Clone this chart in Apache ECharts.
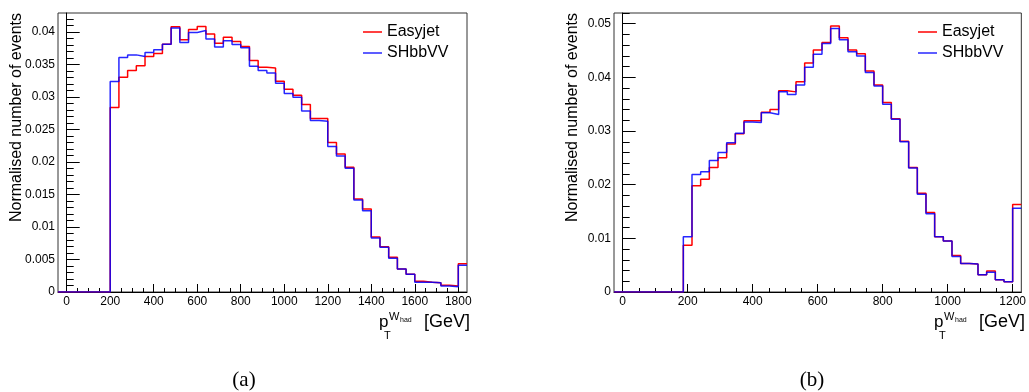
<!DOCTYPE html>
<html>
<head>
<meta charset="utf-8">
<script src="https://cdn.jsdelivr.net/npm/echarts@6/dist/echarts.min.js"></script>
<style>html,body{margin:0;padding:0;background:#fff;}#chart{width:1029px;height:392px;}</style>
</head>
<body>
<div id="chart"></div>
<script>
// ---------- data ----------
const seriesNames = ['Easyjet', 'SHbbVV'];

// Panel (a): bins of 40 GeV, from -40 to 1840 (last bin = overflow)
const binStartA = -40;
const binWidthA = 40;
const easyjetA = [0, 0, 0, 0, 0, 0,
  0.02836, 0.03303, 0.03405, 0.03477, 0.03620, 0.03667, 0.03810, 0.04080, 0.03877, 0.04036,
  0.04082, 0.03969, 0.03826, 0.03918, 0.03851, 0.03774, 0.03559, 0.03456, 0.03446, 0.03241,
  0.03118, 0.03026, 0.02882, 0.02667, 0.02667, 0.02297, 0.02123, 0.01918, 0.01431, 0.01277,
  0.00846, 0.00697, 0.00533, 0.00354, 0.00272, 0.00164, 0.00149, 0.00144, 0.00103, 0.00092,
  0.00436];
const shbbvvA = [0, 0, 0, 0, 0, 0,
  0.03236, 0.03605, 0.03646, 0.03620, 0.03682, 0.03723, 0.03810, 0.04060, 0.03836, 0.03990,
  0.04020, 0.03892, 0.03769, 0.03862, 0.03805, 0.03754, 0.03472, 0.03405, 0.03369, 0.03210,
  0.03051, 0.02995, 0.02785, 0.02636, 0.02626, 0.02236, 0.02092, 0.01903, 0.01415, 0.01251,
  0.00831, 0.00687, 0.00518, 0.00354, 0.00272, 0.00149, 0.00149, 0.00144, 0.00092, 0.00082,
  0.00410];

// Panel (b): 45 bins over 0-1200 GeV plus one empty bin below and overflow above
const binWidthB = 1200 / 45;
const binStartB = -binWidthB;
const easyjetB = [0, 0, 0, 0, 0, 0, 0, 0,
  0.0087, 0.0198, 0.0210, 0.0232, 0.0250, 0.0276, 0.0295, 0.0319, 0.0319, 0.0335,
  0.0340, 0.0375, 0.0373, 0.0392, 0.0427, 0.0451, 0.0465, 0.0496, 0.0474, 0.0451,
  0.0444, 0.0412, 0.0386, 0.0353, 0.0323, 0.0281, 0.0232, 0.0184, 0.0148, 0.0103,
  0.0095, 0.0068, 0.0053, 0.0052, 0.0032, 0.0039, 0.0023, 0.0019,
  0.0163];
const shbbvvB = [0, 0, 0, 0, 0, 0, 0, 0,
  0.0103, 0.0219, 0.0224, 0.0245, 0.0260, 0.0278, 0.0296, 0.0317, 0.0316, 0.0334,
  0.0331, 0.0373, 0.0368, 0.0386, 0.0419, 0.0443, 0.0463, 0.0491, 0.0470, 0.0448,
  0.0440, 0.0409, 0.0384, 0.0350, 0.0322, 0.0280, 0.0231, 0.0182, 0.0146, 0.0103,
  0.0095, 0.0066, 0.0053, 0.0052, 0.0032, 0.0037, 0.0023, 0.0019,
  0.0156];

// Axis ranges and ticks
const xRangeA = [-40, 1840];
const xMajorA = [0, 200, 400, 600, 800, 1000, 1200, 1400, 1600, 1800];
const xMinorA = [50, 100, 150, 250, 300, 350, 450, 500, 550, 650, 700, 750, 850, 900, 950, 1050, 1100, 1150, 1250, 1300, 1350, 1450, 1500, 1550, 1650, 1700, 1750];
const yMaxA = 0.0429;
const yMajorA = [0, 0.005, 0.01, 0.015, 0.02, 0.025, 0.03, 0.035, 0.04];
const yLabelsA = ['0', '0.005', '0.01', '0.015', '0.02', '0.025', '0.03', '0.035', '0.04'];
const yMinorA = [0.001,0.002,0.003,0.004,0.006,0.007,0.008,0.009,0.011,0.012,0.013,0.014,0.016,0.017,0.018,0.019,0.021,0.022,0.023,0.024,0.026,0.027,0.028,0.029,0.031,0.032,0.033,0.034,0.036,0.037,0.038,0.039,0.041,0.042];

const xRangeB = [-1200 / 45, 1200 + 1200 / 45];
const xMajorB = [0, 200, 400, 600, 800, 1000, 1200];
const xMinorB = [50, 100, 150, 250, 300, 350, 450, 500, 550, 650, 700, 750, 850, 900, 950, 1050, 1100, 1150];
const yMaxB = 0.052;
const yMajorB = [0, 0.01, 0.02, 0.03, 0.04, 0.05];
const yLabelsB = ['0', '0.01', '0.02', '0.03', '0.04', '0.05'];
const yMinorB = [0.002,0.004,0.006,0.008,0.012,0.014,0.016,0.018,0.022,0.024,0.026,0.028,0.032,0.034,0.036,0.038,0.042,0.044,0.046,0.048,0.052];

const colors = { Easyjet: '#ff0000', SHbbVV: 'rgba(0,0,255,0.85)' };

// ---------- build ----------
const FONT = '"Liberation Sans", Arial, Helvetica, sans-serif';

function histPoints(start, width, vals) {
  const pts = vals.map((v, i) => [start + i * width, v]);
  pts.push([start + vals.length * width, vals[vals.length - 1]]);
  return pts;
}
function labelFor(vals, labels) {
  return function (v) {
    const i = vals.findIndex(t => Math.abs(t - v) < 1e-9);
    return i >= 0 ? labels[i] : '';
  };
}

const grids = [
  { left: 58, top: 13, width: 409, height: 279 },
  { left: 614, top: 13, width: 408, height: 279 }
];

function xAxes(gridIndex, range, major, minor) {
  return [
    {
      type: 'value', gridIndex, min: range[0], max: range[1], position: 'bottom',
      axisLine: { show: true, lineStyle: { color: '#000', width: 1 } },
      axisTick: { show: true, inside: true, length: 8, customValues: major, lineStyle: { color: '#000', width: 1 } },
      axisLabel: { show: true, customValues: major, margin: 4, color: '#000', fontSize: 12, fontFamily: FONT,
        formatter: v => String(Math.round(v)) },
      splitLine: { show: false }
    },
    {
      type: 'value', gridIndex, min: range[0], max: range[1], position: 'bottom', offset: 0,
      axisLine: { show: false },
      axisTick: { show: true, inside: true, length: 4, customValues: minor, lineStyle: { color: '#000', width: 1 } },
      axisLabel: { show: false },
      splitLine: { show: false }
    }
  ];
}
function yAxes(gridIndex, max, major, labels, minor) {
  return [
    {
      type: 'value', gridIndex, min: 0, max: max, position: 'left',
      axisLine: { show: true, lineStyle: { color: '#000', width: 1 } },
      axisTick: { show: true, inside: true, length: 13, customValues: major, lineStyle: { color: '#000', width: 1 } },
      axisLabel: { show: true, customValues: major, margin: 3, color: '#000', fontSize: 12, fontFamily: FONT,
        formatter: labelFor(major, labels) },
      splitLine: { show: false }
    },
    {
      type: 'value', gridIndex, min: 0, max: max, position: 'left', offset: 0,
      axisLine: { show: false },
      axisTick: { show: true, inside: true, length: 7, customValues: minor, lineStyle: { color: '#000', width: 1 } },
      axisLabel: { show: false },
      splitLine: { show: false }
    }
  ];
}

function histSeries(name, xi, yi, pts) {
  return {
    name, type: 'line', xAxisIndex: xi, yAxisIndex: yi, data: pts, step: 'end',
    symbol: 'none', animation: false,
    lineStyle: { color: colors[name], width: 1.5 },
    itemStyle: { color: colors[name] }
  };
}

function legend(left) {
  return {
    data: seriesNames.map(n => ({ name: n, icon: 'rect', itemStyle: { color: colors[n] } })),
    orient: 'vertical', left, top: 24, padding: 0,
    itemGap: 5, itemWidth: 19, itemHeight: 1.5,
    textStyle: { fontSize: 16, lineHeight: 16, color: '#000', fontFamily: FONT }
  };
}

function xTitle(dx) {
  const f = FONT;
  return [
    { type: 'text', x: 379 + dx, y: 322, style: { text: 'p', font: '17px ' + f, fill: '#000', align: 'left', verticalAlign: 'middle', textAlign: 'left', textVerticalAlign: 'middle' } },
    { type: 'text', x: 384 + dx, y: 336, style: { text: 'T', font: '11px ' + f, fill: '#000', align: 'left', verticalAlign: 'middle', textAlign: 'left', textVerticalAlign: 'middle' } },
    { type: 'text', x: 389 + dx, y: 317, style: { text: 'W', font: '11px ' + f, fill: '#000', align: 'left', verticalAlign: 'middle', textAlign: 'left', textVerticalAlign: 'middle' } },
    { type: 'text', x: 400 + dx, y: 320, style: { text: 'had', font: '7px ' + f, fill: '#000', align: 'left', verticalAlign: 'middle', textAlign: 'left', textVerticalAlign: 'middle' } },
    { type: 'text', x: 470 + dx, y: 322, style: { text: '[GeV]', font: '18px ' + f, fill: '#000', align: 'right', verticalAlign: 'middle', textAlign: 'right', textVerticalAlign: 'middle' } }
  ];
}
function yTitle(x) {
  return { type: 'text', x: x, y: 13, rotation: Math.PI / 2,
    style: { text: 'Normalised number of events', font: '16px ' + FONT, fill: '#000', align: 'right', verticalAlign: 'middle', textAlign: 'right', textVerticalAlign: 'middle' } };
}
function caption(x, t) {
  return { type: 'text', x: x, y: 380,
    style: { text: t, font: '21px "Liberation Serif", "DejaVu Serif", serif', fill: '#000', align: 'center', verticalAlign: 'middle', textAlign: 'center', textVerticalAlign: 'middle' } };
}

const option = {
  animation: false,
  backgroundColor: '#fff',
  grid: grids.map(g => Object.assign({ show: true, borderColor: '#333', borderWidth: 1, backgroundColor: 'transparent', containLabel: false }, g)),
  xAxis: [].concat(xAxes(0, xRangeA, xMajorA, xMinorA), xAxes(1, xRangeB, xMajorB, xMinorB)),
  yAxis: [].concat(yAxes(0, yMaxA, yMajorA, yLabelsA, yMinorA), yAxes(1, yMaxB, yMajorB, yLabelsB, yMinorB)),
  legend: [legend(363), legend(918)],
  series: [
    histSeries('Easyjet', 0, 0, histPoints(binStartA, binWidthA, easyjetA)),
    histSeries('SHbbVV', 0, 0, histPoints(binStartA, binWidthA, shbbvvA)),
    histSeries('Easyjet', 2, 2, histPoints(binStartB, binWidthB, easyjetB)),
    histSeries('SHbbVV', 2, 2, histPoints(binStartB, binWidthB, shbbvvB))
  ],
  graphic: [].concat(
    xTitle(0), xTitle(555),
    [yTitle(17), yTitle(573), caption(244, '(a)'), caption(812, '(b)')]
  )
};

const chart = echarts.init(document.getElementById('chart'), null, { renderer: 'canvas' });
chart.setOption(option);
</script>
</body>
</html>
